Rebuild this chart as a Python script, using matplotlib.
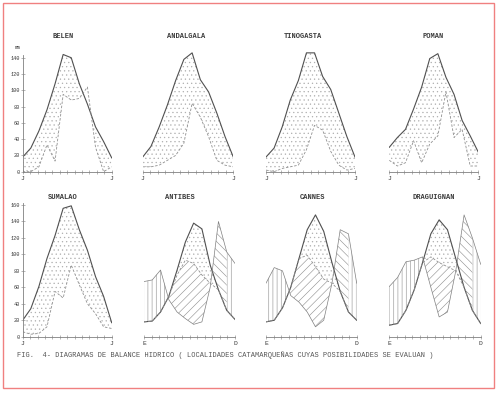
import numpy as np
import matplotlib
matplotlib.use("Agg")
import matplotlib.pyplot as plt

plt.rcParams['hatch.linewidth'] = 0.4
plt.rcParams['hatch.color'] = '#888888'
FONT = 'Liberation Mono'

# ---------------- data (mm per month) ----------------
months = list(range(12))

belen_pe = [18, 29, 50, 76, 108, 144, 140, 108, 83, 55, 37, 17]
belen_p = [0, 0, 6, 33, 13, 95, 88, 90, 104, 30, 0, 6]

andalgala_pe = [18, 31, 55, 82, 112, 138, 146, 113, 98, 72, 43, 18]
andalgala_p = [6, 6, 8, 14, 20, 35, 84, 67, 43, 14, 8, 6]

tinogasta_pe = [18, 29, 55, 88, 112, 146, 146, 117, 101, 72, 43, 18]
tinogasta_p = [2, 0, 4, 6, 8, 27, 57, 51, 25, 8, 2, 4]

poman_pe = [30, 42, 52, 77, 104, 139, 145, 116, 95, 63, 44, 24]
poman_p = [14, 7, 11, 38, 11, 34, 44, 98, 42, 52, 7, 7]

sumalao_pe = [20, 34, 61, 95, 123, 156, 159, 130, 105, 73, 49, 17]
sumalao_p = [6, 3, 4, 12, 55, 47, 87, 63, 40, 28, 12, 10]

antibes_pe = [18, 19, 30, 49, 81, 115, 138, 131, 87, 57, 32, 21]
antibes_p = [67, 69, 81, 45, 30, 22, 15, 18, 60, 140, 103, 89]
antibes_ae = [18, 19, 30, 49, 75, 93, 89, 75, 65, 57, 32, 21]

cannes_pe = [18, 20, 35, 60, 95, 130, 148, 128, 90, 55, 30, 20]
cannes_p = [65, 84, 80, 50, 42, 30, 12, 20, 65, 130, 125, 65]
cannes_ae = [18, 20, 35, 60, 95, 99, 85, 70, 65, 55, 30, 20]

draguignan_pe = [14, 16, 32, 57, 90, 125, 142, 130, 95, 60, 32, 16]
draguignan_p = [61, 72, 91, 93, 97, 60, 24, 30, 80, 148, 120, 88]
draguignan_ae = [14, 16, 32, 57, 90, 97, 90, 85, 80, 60, 32, 16]

top_titles = ["BELEN", "ANDALGALA", "TINOGASTA", "POMAN"]
bottom_titles = ["SUMALAO", "ANTIBES", "CANNES", "DRAGUIGNAN"]
ticks_top = [0, 20, 40, 60, 80, 100, 120, 140]
ticks_sumalao = [0, 20, 40, 60, 80, 100, 120, 140, 160]
caption = "FIG.  4- DIAGRAMAS DE BALANCE HIDRICO ( LOCALIDADES CATAMARQUEÑAS CUYAS POSIBILIDADES SE EVALUAN )"

W, H = 500, 393
fig = plt.figure(figsize=(W / 100, H / 100), dpi=100)
fig.patch.set_facecolor('white')

LINE = '#505050'
DASH = '#909090'
TXT = '#3a3a3a'
HATCH = '#8c8c8c'
DOTS = '#b0b0b0'


def make_ax(x0, x1, y0px, ymax, scale):
    ax = fig.add_axes([x0 / W, (H - y0px) / H, (x1 - x0) / W, ymax * scale / H])
    ax.set_xlim(0, 11)
    ax.set_ylim(0, ymax)
    ax.patch.set_alpha(0)
    for s in ['top', 'right', 'left']:
        ax.spines[s].set_visible(False)
    ax.spines['bottom'].set_color('#808080')
    ax.spines['bottom'].set_linewidth(0.6)
    ax.set_yticks([])
    ax.set_xticks(np.linspace(0, 11, 13), minor=True)
    ax.tick_params(axis='x', which='minor', direction='inout', length=2.5, width=0.4, color='#808080')
    ax.tick_params(axis='x', which='major', direction='inout', length=2.5, width=0.4, color='#808080',
                   labelsize=4.6, pad=1.5, labelcolor=TXT)
    return ax


def set_months(ax, a, b):
    ax.set_xticks([0, 11])
    ax.set_xticklabels([a, b], fontfamily=FONT)


def add_yaxis(ax, ticks):
    ax.spines['left'].set_visible(True)
    ax.spines['left'].set_color('#808080')
    ax.spines['left'].set_linewidth(0.6)
    ax.spines['left'].set_bounds(0, ticks[-1] + 3)
    ax.set_yticks(ticks)
    ax.set_yticklabels([str(t) for t in ticks], fontfamily=FONT)
    ax.tick_params(axis='y', direction='inout', length=2.5, width=0.4, color='#808080',
                   labelsize=3.8, pad=1, labelcolor=TXT)


def dry_panel(ax, pe, p):
    x = np.array(months)
    pe = np.array(pe); p = np.array(p)
    ax.fill_between(x, pe, p, where=pe >= p, interpolate=True, facecolor='none',
                    edgecolor=DOTS, hatch='....', linewidth=0)
    ax.plot(x, pe, color=LINE, lw=0.8)
    ax.plot(x, p, color=DASH, lw=0.6, ls=(0, (3, 2)))


def wet_panel(ax, pe, p, ae, k1, k2):
    x = np.array(months)
    pe = np.array(pe); p = np.array(p); ae = np.array(ae)
    # surplus (left)
    s = slice(0, k1 + 1)
    ax.fill_between(x[s], p[s], pe[s], where=p[s] >= pe[s], interpolate=True,
                    facecolor='none', edgecolor=HATCH, hatch='||||', linewidth=0)
    # utilisation
    ax.fill_between(x, ae, p, where=ae >= p, interpolate=True,
                    facecolor='none', edgecolor=HATCH, hatch='////', linewidth=0)
    # deficit
    ax.fill_between(x, pe, ae, where=pe > ae, interpolate=True,
                    facecolor='none', edgecolor=DOTS, hatch='....', linewidth=0)
    # recharge
    s = slice(k1 + 3, k2 + 1)
    ax.fill_between(x[s], p[s], pe[s], where=p[s] >= pe[s], interpolate=True,
                    facecolor='none', edgecolor=HATCH, hatch='\\\\\\\\', linewidth=0)
    # surplus (right)
    s = slice(k2, 12)
    ax.fill_between(x[s], p[s], pe[s], where=p[s] >= pe[s], interpolate=True,
                    facecolor='none', edgecolor=HATCH, hatch='||||', linewidth=0)
    ax.plot(x, pe, color=LINE, lw=0.8)
    ax.plot(x, p, color='#808080', lw=0.5)
    ax.plot(x, ae, color=DASH, lw=0.6, ls=(0, (3, 2)))


# ---------------- top row ----------------
top_x = [(22.7, 111.7), (142.7, 233.3), (266, 355), (389.3, 478.3)]
top_data = [(belen_pe, belen_p), (andalgala_pe, andalgala_p),
            (tinogasta_pe, tinogasta_p), (poman_pe, poman_p)]
top_tx = [63, 186, 303, 433]
for i, ((x0, x1), (pe, p)) in enumerate(zip(top_x, top_data)):
    ax = make_ax(x0, x1, 171.7, 160, 0.814)
    set_months(ax, 'J', 'J')
    dry_panel(ax, pe, p)
    if i == 0:
        add_yaxis(ax, ticks_top)
        ax.text(-0.3, 149, 'mm', fontsize=3.4, fontfamily=FONT, color=TXT, ha='right', va='bottom')
    fig.text(top_tx[i] / W, 1 - 37 / H, top_titles[i], fontsize=5.0, fontfamily=FONT,
             color=TXT, ha='center', va='center', fontweight='bold')

# ---------------- bottom row ----------------
ax = make_ax(22.7, 111.7, 336.7, 170, 0.823)
set_months(ax, 'J', 'J')
dry_panel(ax, sumalao_pe, sumalao_p)
add_yaxis(ax, ticks_sumalao)

bx = [(144, 235), (266, 356.7), (389.3, 480.7)]
bdata = [(antibes_pe, antibes_p, antibes_ae, 3, 10),
         (cannes_pe, cannes_p, cannes_ae, 3, 10),
         (draguignan_pe, draguignan_p, draguignan_ae, 4, 10)]
for (x0, x1), (pe, p, ae, k1, k2) in zip(bx, bdata):
    ax = make_ax(x0, x1, 336.7, 170, 0.823)
    set_months(ax, 'E', 'D')
    wet_panel(ax, pe, p, ae, k1, k2)

bot_tx = [63, 180, 312, 434]
for t, xx in zip(bottom_titles, bot_tx):
    fig.text(xx / W, 1 - 198 / H, t, fontsize=5.0, fontfamily=FONT, color=TXT,
             ha='center', va='center', fontweight='bold')

fig.text(17 / W, 1 - 355 / H, caption, fontsize=5.0, fontfamily=FONT, color='#555555',
         ha='left', va='center')

# red frame
fig.add_artist(plt.Rectangle((3 / W, 1 - 388 / H), 491 / W, 385 / H, transform=fig.transFigure,
                             fill=False, edgecolor='#f08080', linewidth=1.0))

fig.savefig('out.png', dpi=100, facecolor='white')
